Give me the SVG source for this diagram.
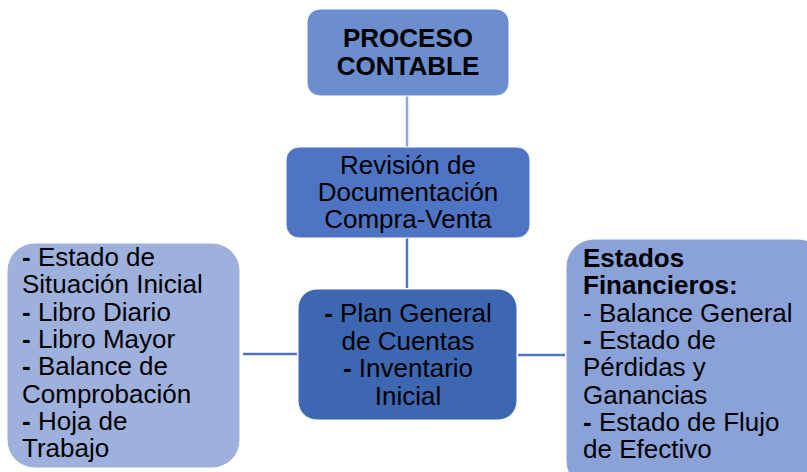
<svg xmlns="http://www.w3.org/2000/svg" width="807" height="472" viewBox="0 0 807 472">
<style>
text{font-family:"Liberation Sans",Arial,sans-serif;font-size:26px;fill:#000}
.b{font-weight:bold}
.c{text-anchor:middle}
.box{stroke:#ffffff;stroke-width:1}
.ln{stroke-width:2.5;fill:none}
</style>
<rect width="807" height="472" fill="#ffffff"/>
<g id="connectors">
<line class="ln" x1="407" y1="96" x2="407" y2="147" stroke="#8ea8dc"/>
<line class="ln" x1="407" y1="238" x2="407" y2="288" stroke="#4f76c4"/>
<line class="ln" x1="243" y1="354" x2="297" y2="354" stroke="#4f76c4"/>
<line class="ln" x1="518" y1="355" x2="565" y2="355" stroke="#4f76c4"/>
</g>
<g id="proceso">
<rect class="box" x="307" y="9" width="202" height="87" rx="13" fill="#6c8ecf"/>
<text class="b c" x="408" y="47">PROCESO</text>
<text class="b c" x="408" y="75">CONTABLE</text>
</g>
<g id="revision">
<rect class="box" x="286" y="147" width="244" height="91" rx="13" fill="#4f74c3"/>
<text class="c" x="408" y="174">Revisión de</text>
<text class="c" x="408" y="201">Documentación</text>
<text class="c" x="408" y="228">Compra-Venta</text>
</g>
<g id="plan">
<rect class="box" x="298" y="289" width="219" height="131" rx="19" fill="#3e67b2"/>
<text class="c" x="408" y="322"><tspan class="b">-</tspan> Plan General</text>
<text class="c" x="408" y="350">de Cuentas</text>
<text class="c" x="408" y="377"><tspan class="b">-</tspan> Inventario</text>
<text class="c" x="408" y="405">Inicial</text>
</g>
<g id="izquierda">
<rect class="box" x="7" y="243" width="233" height="225" rx="28" fill="#9eb0dc"/>
<text x="22" y="266"><tspan class="b">-</tspan> Estado de</text>
<text x="22" y="293">Situación Inicial</text>
<text x="22" y="320.5"><tspan class="b">-</tspan> Libro Diario</text>
<text x="22" y="348"><tspan class="b">-</tspan> Libro Mayor</text>
<text x="22" y="375"><tspan class="b">-</tspan> Balance de</text>
<text x="22" y="402.5">Comprobación</text>
<text x="22" y="430"><tspan class="b">-</tspan> Hoja de</text>
<text x="22" y="457">Trabajo</text>
</g>
<g id="derecha">
<rect class="box" x="566" y="239" width="260" height="250" rx="28" fill="#8aa2d7"/>
<text class="b" x="583" y="267">Estados</text>
<text class="b" x="583" y="294">Financieros:</text>
<text x="583" y="321.5">- Balance General</text>
<text x="583" y="349"><tspan class="b">-</tspan> Estado de</text>
<text x="583" y="376">Pérdidas y</text>
<text x="583" y="403.5">Ganancias</text>
<text x="583" y="431"><tspan class="b">-</tspan> Estado de Flujo</text>
<text x="583" y="458">de Efectivo</text>
</g>
</svg>
